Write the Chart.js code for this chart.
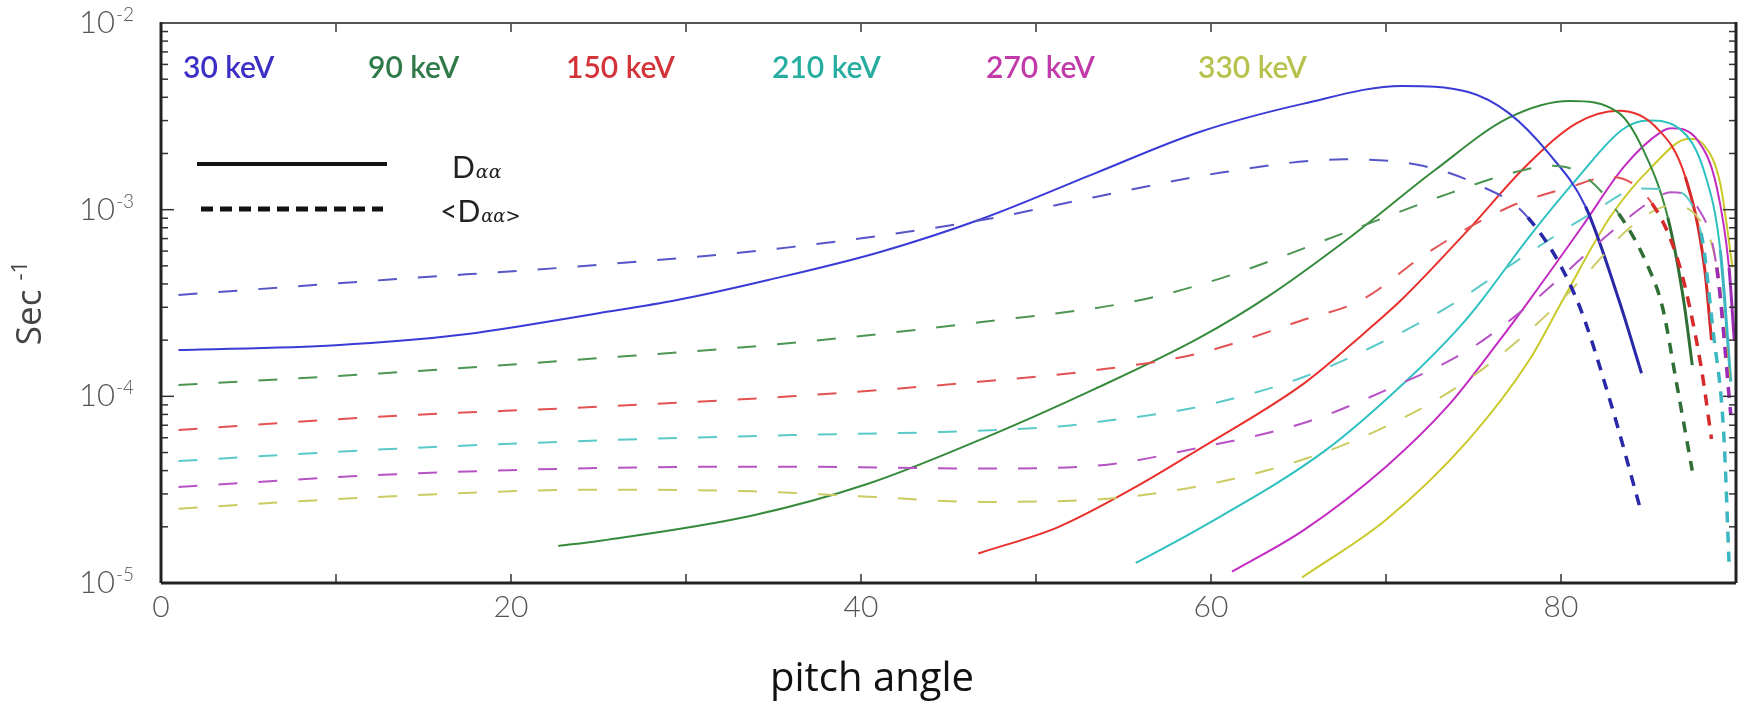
<!DOCTYPE html>
<html>
<head>
<meta charset="utf-8">
<script src="https://cdn.jsdelivr.net/npm/chart.js@4.4.0/dist/chart.umd.min.js"></script>
<style>
  html, body { margin: 0; padding: 0; background: #fff; }
  #wrap { width: 1742px; height: 706px; }
</style>
</head>
<body>
<div id="wrap"><canvas id="chart" width="1742" height="706"></canvas></div>
<script>
// pitch angle (deg) and diffusion coefficient (s^-1)
const x30s = [1, 10, 17, 25, 29.5, 34.7, 41, 47, 53.4, 59.3, 65.3, 70.9, 74.7, 77, 79.3, 81.4, 83.3, 84.6];
const y30s = [1.77e-4, 1.88e-4, 2.13e-4, 2.79e-4, 3.28e-4, 4.2e-4, 5.9e-4, 9.0e-4, 1.57e-3, 2.6e-3, 3.7e-3, 4.6e-3, 4.27e-3, 3.3e-3, 2.0e-3, 1.04e-3, 3.3e-4, 1.33e-4];
const x30d = [1, 12.7, 25, 36, 46.9, 53.4, 60.6, 67.6, 71.8, 75.1, 78.1, 80.9, 82.8, 84.6];
const y30d = [3.49e-4, 4.2e-4, 5.06e-4, 6.3e-4, 8.8e-4, 1.17e-3, 1.58e-3, 1.86e-3, 1.74e-3, 1.38e-3, 9.1e-4, 3.3e-4, 9.5e-5, 2.37e-5];

const x90s = [22.7, 25, 33.8, 40.4, 46.9, 53.4, 59.3, 63.2, 68.1, 72.8, 77, 80.5, 83.3, 84.7, 86.1, 87, 87.5];
const y90s = [1.58e-5, 1.68e-5, 2.3e-5, 3.4e-5, 5.9e-5, 1.1e-4, 2.05e-4, 3.4e-4, 7.3e-4, 1.63e-3, 3.1e-3, 3.82e-3, 3.3e-3, 2.09e-3, 9.1e-4, 3.3e-4, 1.47e-4];
const x90d = [1, 12.7, 25, 36, 46.9, 55.7, 60.6, 67.6, 73.7, 77.5, 79.5, 81.2, 83.3, 85, 85.8, 86.6, 87.5];
const y90d = [1.15e-4, 1.33e-4, 1.6e-4, 1.93e-4, 2.5e-4, 3.24e-4, 4.3e-4, 7.5e-4, 1.23e-3, 1.6e-3, 1.72e-3, 1.55e-3, 9.5e-4, 4.9e-4, 3.0e-4, 1.18e-4, 4.0e-5];

const x150s = [46.7, 51.3, 55.7, 59.3, 65.3, 68.8, 70.9, 74.7, 78.1, 80.9, 83.3, 85.4, 87.1, 88.2, 88.6];
const y150s = [1.44e-5, 2.0e-5, 3.27e-5, 5.2e-5, 1.17e-4, 2.2e-4, 3.3e-4, 7.8e-4, 1.75e-3, 2.91e-3, 3.39e-3, 2.78e-3, 1.5e-3, 4.9e-4, 2.0e-4];
const x150d = [1, 12.7, 25, 36, 46.9, 53.4, 59.3, 65.3, 68.6, 72.4, 77, 80.5, 82.8, 85.2, 86.8, 88, 88.6];
const y150d = [6.6e-5, 7.8e-5, 8.8e-5, 1.0e-4, 1.2e-4, 1.38e-4, 1.7e-4, 2.57e-4, 3.28e-4, 5.9e-4, 1.03e-3, 1.32e-3, 1.5e-3, 1.08e-3, 4.9e-4, 1.45e-4, 5.9e-5];

const x210s = [55.7, 59.3, 66.5, 71.2, 74.2, 75.5, 78.2, 81, 83.5, 85, 86.8, 88.2, 89.1, 89.7];
const y210s = [1.28e-5, 1.95e-5, 5.1e-5, 1.22e-4, 2.35e-4, 3.3e-4, 7.2e-4, 1.5e-3, 2.68e-3, 3.0e-3, 2.7e-3, 1.58e-3, 6.1e-4, 1.2e-4];
const x210d = [1, 12.7, 25, 36, 44.7, 51.3, 53.6, 59.3, 65.3, 70, 73.5, 78.2, 81.7, 84.5, 86.3, 88, 88.7, 89.3, 89.6];
const y210d = [4.5e-5, 5.2e-5, 5.8e-5, 6.2e-5, 6.45e-5, 6.9e-5, 7.3e-5, 8.8e-5, 1.27e-4, 2.0e-4, 3.0e-4, 5.9e-4, 9.5e-4, 1.3e-3, 1.27e-3, 7.5e-4, 2.2e-4, 6.3e-5, 1.3e-5];

const x270s = [61.2, 65.3, 70, 73.5, 76.5, 78.2, 81.2, 83.6, 85.7, 86.3, 87.8, 88.9, 89.6, 89.9];
const y270s = [1.15e-5, 1.92e-5, 4.2e-5, 8.8e-5, 2.0e-4, 3.28e-4, 8.1e-4, 1.7e-3, 2.6e-3, 2.73e-3, 2.36e-3, 1.32e-3, 4.9e-4, 2.0e-4];
const x270d = [1, 12.7, 25, 36, 46.9, 53.4, 59.3, 65.3, 70, 74.7, 78.2, 82.8, 85.2, 86.3, 87.8, 88.9, 89.7];
const y270d = [3.27e-5, 3.8e-5, 4.13e-5, 4.2e-5, 4.1e-5, 4.25e-5, 5.3e-5, 7.2e-5, 1.08e-4, 1.77e-4, 3.1e-4, 7.5e-4, 1.12e-3, 1.24e-3, 1.03e-3, 4.9e-4, 8e-5];

const x330s = [65.2, 70, 74.7, 78.2, 80.1, 82.8, 85.2, 87.3, 88.2, 89.1, 89.8];
const y330s = [1.07e-5, 2.18e-5, 5.83e-5, 1.57e-4, 3.28e-4, 9.1e-4, 1.7e-3, 2.4e-3, 2.2e-3, 1.38e-3, 4.9e-4];
const x330d = [1, 12.7, 25, 33.8, 40.4, 46.9, 53.4, 59.3, 65.3, 70, 74.7, 79.3, 81.7, 84, 86.3, 87.8, 88.9, 89.6];
const y330d = [2.5e-5, 2.9e-5, 3.16e-5, 3.1e-5, 2.9e-5, 2.72e-5, 2.8e-5, 3.3e-5, 4.6e-5, 6.9e-5, 1.23e-4, 2.8e-4, 4.8e-4, 8.1e-4, 1.05e-3, 9.1e-4, 4.9e-4, 1.2e-4];

const energies = ["30 keV", "90 keV", "150 keV", "210 keV", "270 keV", "330 keV"];
const yExponents = [-2, -3, -4, -5];
const xTicks = [0, 10, 20, 30, 40, 50, 60, 70, 80, 90];

// couleurs et styles
const labelColors = ["#3b2fc4", "#2f7a48", "#d3343a", "#27ada0", "#c13aa9", "#b7c24e"];
const solidColors = ["#3a3ad6", "#358a3c", "#e8302c", "#2fc0c0", "#c32cc3", "#c9c92a"];
const dashColors = ["#5656c8", "#4c9552", "#e35252", "#5cc9c9", "#b652c4", "#cbcb62"];
const tailColors = ["#2828a8", "#2f6f36", "#d62a2a", "#3cb6c2", "#9c2cb8", "#b9b934"];
const solidTail = [80, 85, 87, 89, 89.3, 89.5];
const dashTail = [76, 82.5, 85, 87.5, 88, 88.5];

const solidX = [x30s, x90s, x150s, x210s, x270s, x330s];
const solidY = [y30s, y90s, y150s, y210s, y270s, y330s];
const dashX = [x30d, x90d, x150d, x210d, x270d, x330d];
const dashY = [y30d, y90d, y150d, y210d, y270d, y330d];

function pts(xs, ys) {
  return xs.map((x, i) => ({ x: x, y: ys[i] }));
}

const datasets = [];
for (let i = 0; i < energies.length; i++) {
  datasets.push({
    label: energies[i] + " <Daa>",
    data: pts(dashX[i], dashY[i]),
    borderColor: dashColors[i],
    borderWidth: 2,
    borderDash: [19, 21],
    pointRadius: 0,
    cubicInterpolationMode: "monotone",
    fill: false,
    segment: {
      borderWidth: (c) => (c.p0.parsed.x >= dashTail[i] ? 3.5 : undefined),
      borderColor: (c) => (c.p0.parsed.x >= dashTail[i] ? tailColors[i] : undefined),
      borderDash: (c) => (c.p0.parsed.x >= dashTail[i] ? [11, 9] : undefined)
    }
  });
}
for (let i = 0; i < energies.length; i++) {
  datasets.push({
    label: energies[i] + " Daa",
    data: pts(solidX[i], solidY[i]),
    borderColor: solidColors[i],
    borderWidth: 2,
    pointRadius: 0,
    cubicInterpolationMode: "monotone",
    fill: false,
    segment: {
      borderWidth: (c) => (c.p0.parsed.x >= solidTail[i] ? 3 : undefined),
      borderColor: (c) => (c.p0.parsed.x >= solidTail[i] ? tailColors[i] : undefined)
    }
  });
}

// cadre, graduations intérieures, textes
const framePlugin = {
  id: "frame",
  afterDraw(chart) {
    const { ctx, chartArea: a, scales: { x, y } } = chart;
    ctx.save();

    function seg(x1, y1, x2, y2) {
      ctx.beginPath();
      ctx.moveTo(x1, y1);
      ctx.lineTo(x2, y2);
      ctx.stroke();
    }

    // graduations
    ctx.strokeStyle = "#333";
    ctx.lineWidth = 1.5;
    xTicks.forEach((v) => {
      const px = x.getPixelForValue(v);
      seg(px, a.bottom, px, a.bottom - 9);
      seg(px, a.top, px, a.top + 9);
    });
    for (let e = -5; e < -2; e++) {
      for (let m = 1; m < 10; m++) {
        const py = y.getPixelForValue(m * Math.pow(10, e));
        const len = m === 1 ? 13 : 7;
        seg(a.left, py, a.left + len, py);
        seg(a.right, py, a.right - len, py);
      }
    }

    // cadre
    ctx.strokeStyle = "#555";
    ctx.lineWidth = 2;
    seg(a.left, a.top, a.right, a.top);
    ctx.strokeStyle = "#222";
    ctx.lineWidth = 3;
    seg(a.left, a.top - 1, a.left, a.bottom);
    seg(a.left, a.bottom, a.right, a.bottom);
    seg(a.right, a.top - 1, a.right, a.bottom);

    // étiquettes de l'axe y (10^n)
    ctx.fillStyle = "#555";
    ctx.textBaseline = "middle";
    yExponents.forEach((e) => {
      const py = y.getPixelForValue(Math.pow(10, e));
      ctx.font = "300 19px Lato";
      const sup = String(e);
      const sw = ctx.measureText(sup).width;
      ctx.textAlign = "right";
      ctx.fillText(sup, 134, py - 8);
      ctx.font = "300 31px Lato";
      ctx.fillText("10", 134 - sw - 1, py);
    });

    // énergies
    const labelX = [183, 368, 566, 772, 986, 1198];
    ctx.font = "600 30px Lato";
    ctx.textAlign = "left";
    energies.forEach((t, i) => {
      ctx.fillStyle = labelColors[i];
      ctx.fillText(t, labelX[i], 68);
    });

    // légende des styles de trait
    ctx.strokeStyle = "#111";
    ctx.lineWidth = 4;
    seg(197, 164, 387, 164);
    ctx.lineWidth = 5;
    ctx.setLineDash([12, 7]);
    seg(201, 209, 383, 209);
    ctx.setLineDash([]);

    ctx.fillStyle = "#222";
    ctx.textBaseline = "alphabetic";
    ctx.font = "400 30px Lato";
    ctx.fillText("D", 452, 178);
    let w = ctx.measureText("D").width;
    ctx.font = "italic 400 19px 'DejaVu Serif'";
    ctx.fillText("αα", 452 + w + 1, 178);

    ctx.font = "400 30px Lato";
    ctx.fillText("<D", 440, 222);
    w = ctx.measureText("<D").width;
    ctx.font = "italic 400 18px 'DejaVu Serif'";
    ctx.fillText("αα>", 440 + w + 1, 222);

    // titres des axes
    ctx.fillStyle = "#111";
    ctx.font = "400 40px 'Open Sans'";
    ctx.textAlign = "center";
    ctx.textBaseline = "middle";
    ctx.fillText("pitch angle", 872, 680);

    ctx.translate(31, 303);
    ctx.rotate(-Math.PI / 2);
    ctx.fillStyle = "#444";
    ctx.font = "400 35px 'Open Sans'";
    ctx.textAlign = "left";
    const sw = ctx.measureText("Sec ").width;
    ctx.font = "400 22px 'Open Sans'";
    const tw = ctx.measureText("-1").width;
    const start = -(sw + tw) / 2;
    ctx.font = "400 35px 'Open Sans'";
    ctx.fillText("Sec ", start, 0);
    ctx.font = "400 22px 'Open Sans'";
    ctx.fillText("-1", start + sw, -10);

    ctx.restore();
  }
};

new Chart(document.getElementById("chart").getContext("2d"), {
  type: "line",
  data: { datasets: datasets },
  options: {
    responsive: false,
    animation: false,
    layout: { padding: { left: 0, right: 5, top: 23, bottom: 0 } },
    plugins: {
      legend: { display: false },
      tooltip: { enabled: false }
    },
    scales: {
      x: {
        type: "linear",
        min: 0,
        max: 90,
        grid: { display: false, drawTicks: false },
        border: { display: false },
        ticks: {
          stepSize: 10,
          autoSkip: false,
          maxRotation: 0,
          padding: 6,
          color: "#555",
          font: { family: "Lato", size: 30, weight: 300 },
          callback: (v) => (v % 20 === 0 ? String(v) : "")
        },
        afterFit: (s) => { s.height = 123; }
      },
      y: {
        type: "logarithmic",
        min: 1e-5,
        max: 1e-2,
        grid: { display: false, drawTicks: false },
        border: { display: false },
        ticks: { display: false },
        afterFit: (s) => { s.width = 161; }
      }
    }
  },
  plugins: [framePlugin]
});
</script>
</body>
</html>
